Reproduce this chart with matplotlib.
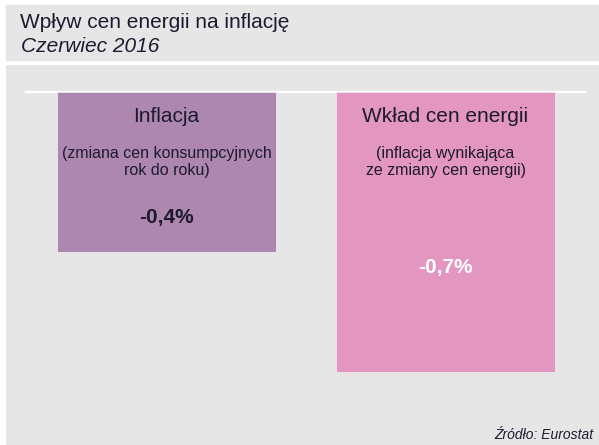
import matplotlib.pyplot as plt
from matplotlib.patches import Rectangle

# data
categories = ["Inflacja", "Wkład cen energii"]
subtitles = ["(zmiana cen konsumpcyjnych\nrok do roku)",
             "(inflacja wynikająca\nze zmiany cen energii)"]
values = [-0.4, -0.7]
bar_colors = ["#ad87b0", "#e396c0"]
value_colors = ["#1c1a2e", "#ffffff"]

TITLE = "Wpływ cen energii na inflację"
SUBTITLE = "Czerwiec 2016"
SOURCE = "Źródło: Eurostat"

BG = "#e6e6e6"
TXT = "#1c1a2e"
W, H = 599, 445
PX = 400.0  # pixels per 1 unit of value


def main():
    plt.rcParams['font.family'] = ['Liberation Sans', 'DejaVu Sans']
    fig = plt.figure(figsize=(W / 100, H / 100), dpi=100)
    fig.patch.set_facecolor("white")

    # title band
    fig.patches.append(Rectangle((6 / W, 1 - 60 / H), 1, 55 / H,
                                 transform=fig.transFigure, color=BG, zorder=0))
    fig.text(20 / W, 1 - 23 / H, TITLE, fontsize=15, color=TXT, va="center")
    fig.text(21 / W, 1 - 47 / H, SUBTITLE, fontsize=15, style="italic",
             color=TXT, va="center")

    ax = fig.add_axes([6 / W, 0, 1 - 6 / W, 1 - 65 / H])
    ax.set_facecolor(BG)
    for s in ax.spines.values():
        s.set_visible(False)
    ax.set_xticks([])
    ax.set_yticks([])

    x = list(range(len(values)))
    ax.bar(x, values, width=0.785, color=bar_colors, edgecolor="#f0e6ee",
           linewidth=0.6, zorder=2)
    ax.axhline(0, xmin=20 / 593, xmax=579 / 593, color="white", lw=1.6, zorder=1)

    ax.set_xlim(-160.5 / 279, 1 + 153.5 / 279)
    ax.set_ylim(-(445 - 92) / PX, 27 / PX)

    def py(pix):
        return -(pix - 92) / PX

    value_pix = [217, 267]
    for i, (cat, sub, v) in enumerate(zip(categories, subtitles, values)):
        ax.text(i, py(116), cat, ha="center", va="center", fontsize=15,
                color=TXT, zorder=3)
        ax.text(i, py(162), sub, ha="center", va="center", fontsize=11.5,
                color=TXT, linespacing=1.15, zorder=3)
        lbl = f"{v:.1f}%".replace(".", ",")
        ax.text(i, py(value_pix[i]), lbl, ha="center", va="center",
                fontsize=15, fontweight="bold", color=value_colors[i], zorder=3)

    fig.text(593 / W, 1 - 435 / H, SOURCE, fontsize=10, style="italic",
             color=TXT, ha="right", va="center")

    fig.savefig("out.png", dpi=100)


if __name__ == "__main__":
    main()
